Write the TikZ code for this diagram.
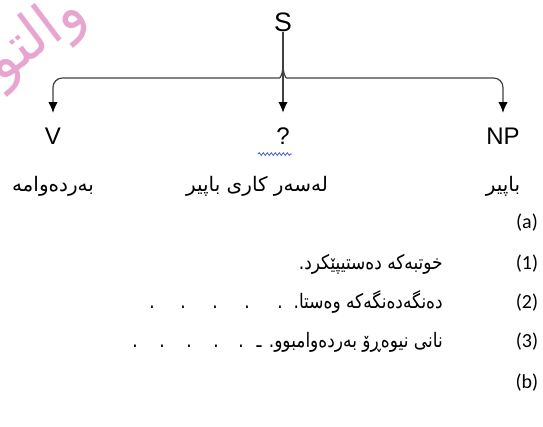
\documentclass[tikz,border=0pt]{standalone}
\usepackage{fontspec}
\setmainfont{Liberation Sans}
\newfontfamily\kurdfont[Script=Arabic]{DejaVu Sans}
\newfontfamily\sentfont[Script=Arabic,FakeStretch=0.85]{DejaVu Sans}
\newfontfamily\tagfont{Carlito}
\definecolor{markpink}{RGB}{231,166,208}
\definecolor{wavyblue}{RGB}{70,90,200}
\TeXXeTstate=1
\usetikzlibrary{arrows.meta,decorations.pathmorphing}
\begin{document}
\begin{tikzpicture}[x=0.75pt,y=-0.75pt,
    every node/.style={inner sep=0pt},
    cat/.style={font=\fontsize{18}{18}\selectfont},
    gloss/.style={font=\kurdfont\fontsize{15}{17}\selectfont},
    sent/.style={font=\sentfont\fontsize{15}{17}\selectfont,anchor=base east},
    tag/.style={font=\tagfont\fontsize{15}{15}\selectfont,anchor=base},
    dot/.style={font=\sentfont\fontsize{15}{17}\selectfont,anchor=base},
    treeline/.style={draw=black!75,line width=0.9pt},
    arr/.style={treeline,-{Latex[length=8pt,width=7pt,color=black]},shorten >=11pt}]
  \useasboundingbox (0,0) rectangle (543,426);
  \node[text=markpink,font=\kurdfont\fontsize{44}{44}\selectfont,rotate=37,anchor=east]
    (mark) at (80,6) {\beginR والتوزيع\endR};
  \draw
    (283,22) node[font=\fontsize{20}{20}\selectfont] (S){S}
    (53,136) node[cat] (V){V}
    (283,136) node[cat] (Q){?}
    (503,136) node[cat] (NP){NP}
    (53,186) node[gloss] (gV){\beginR بەردەوامە\endR}
    (257,186) node[gloss] (gQ){\beginR لەسەر کاری باپیر\endR}
    (503,186) node[gloss] (gNP){\beginR باپیر\endR};
  \coordinate (cusp) at (283,63);
  \begin{scope}
    \draw[arr] (S) -- (Q);
    \draw[arr,rounded corners=7pt] (cusp) .. controls (283,75) and (280,78) .. (270,78) -| (V);
    \draw[arr,rounded corners=7pt] (cusp) .. controls (283,75) and (286,78) .. (296,78) -| (NP);
  \end{scope}
  \draw[draw=wavyblue,line width=0.6pt,decorate,
    decoration={snake,amplitude=1pt,segment length=3pt}] (258,154) -- (292,154);
  \draw
    (527,228) node[tag] (ta){(a)}
    (527,269) node[tag] (t1){(1)}
    (443,269) node[sent] (s1){\beginR خوتبەکە دەستیپێکرد.\endR}
    (527,308) node[tag] (t2){(2)}
    (443,308) node[sent] (s2){\beginR دەنگەدەنگەکە وەستا.\endR}
    (152,308) node[dot] (d21){.}
    (183,308) node[dot] (d22){.}
    (215,308) node[dot] (d23){.}
    (247,308) node[dot] (d24){.}
    (280,308) node[dot] (d25){.}
    (527,347) node[tag] (t3){(3)}
    (443,347) node[sent] (s3){\beginR نانی نیوەڕۆ بەردەوامبوو. ـ\endR}
    (135,347) node[dot] (d31){.}
    (162,347) node[dot] (d32){.}
    (189,347) node[dot] (d33){.}
    (216,347) node[dot] (d34){.}
    (241,347) node[dot] (d35){.}
    (527,388) node[tag] (tb){(b)};
\end{tikzpicture}
\end{document}
